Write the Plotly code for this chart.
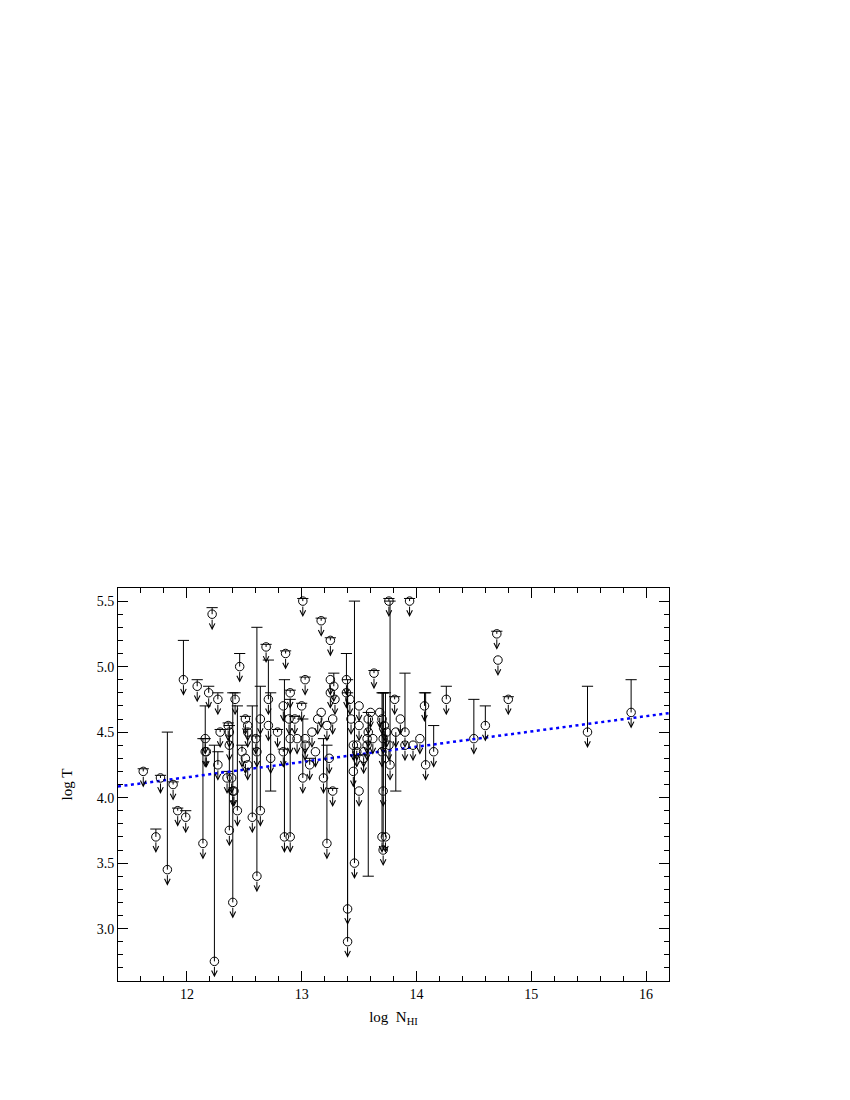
import plotly.graph_objects as go

# log N_HI, log T (upper limits), top of upper error bar, bottom of lower bar (None = none)
NHI = [11.62, 11.73, 11.77, 11.83, 11.88, 11.92, 11.99, 11.97, 12.09, 12.19,
       12.27, 12.22, 12.16, 12.16, 12.17, 12.14, 12.24, 12.27, 12.29, 12.36,
       12.37, 12.37, 12.35, 12.39, 12.40, 12.41, 12.44, 12.37, 12.40, 12.42,
       12.46, 12.48, 12.51, 12.53, 12.51, 12.53, 12.53, 12.57, 12.60, 12.61,
       12.61, 12.64, 12.64, 12.69, 12.71, 12.71, 12.73, 12.79, 12.84, 12.84,
       12.85, 12.86, 12.89, 12.90, 12.90, 12.90, 12.94, 12.96, 13.00, 13.01,
       13.01, 13.03, 13.03, 13.03, 13.07, 13.09, 13.12, 13.14, 13.17, 13.17,
       13.19, 13.22, 13.22, 13.24, 13.25, 13.25, 13.25, 13.27, 13.27, 13.28,
       13.29, 13.39, 13.39, 13.40, 13.40, 13.42, 13.43, 13.45, 13.45, 13.46,
       13.48, 13.48, 13.50, 13.50, 13.50, 13.54, 13.54, 13.57, 13.57, 13.58,
       13.58, 13.60, 13.62, 13.63, 13.68, 13.70, 13.70, 13.71, 13.72, 13.74,
       13.71, 13.70, 13.73, 13.71, 13.76, 13.76, 13.77, 13.81, 13.82, 13.86,
       13.90, 13.90, 13.94, 13.97, 14.03, 14.07, 14.08, 14.15, 14.26, 14.50,
       14.60, 14.70, 14.71, 14.80, 15.49, 15.87]
LOGT = [4.20, 3.70, 4.15, 3.45, 4.10, 3.90, 3.85, 4.90, 4.85, 4.80,
        4.75, 5.40, 4.45, 4.35, 4.35, 3.65, 2.75, 4.25, 4.50, 4.55,
        4.50, 4.40, 4.15, 4.15, 4.05, 4.05, 3.90, 3.75, 3.20, 4.75,
        5.00, 4.35, 4.30, 4.25, 4.60, 4.55, 4.50, 3.85, 4.45, 4.35,
        3.40, 4.60, 3.90, 5.15, 4.75, 4.55, 4.30, 4.50, 4.70, 4.35,
        3.70, 5.10, 4.60, 4.80, 4.45, 3.70, 4.60, 4.45, 4.70, 5.50,
        4.15, 4.90, 4.45, 4.40, 4.25, 4.50, 4.35, 4.60, 4.65, 5.35,
        4.15, 4.55, 3.65, 4.30, 5.20, 4.90, 4.80, 4.60, 4.05, 4.85,
        4.75, 4.90, 4.80, 3.15, 2.90, 4.75, 4.60, 4.40, 4.20, 3.50,
        4.40, 4.35, 4.70, 4.55, 4.05, 4.35, 4.30, 4.40, 4.45, 4.60,
        4.50, 4.65, 4.45, 4.95, 4.65, 4.60, 4.35, 4.45, 4.55, 4.50,
        4.05, 3.70, 3.70, 3.60, 4.40, 5.50, 4.25, 4.75, 4.50, 4.60,
        4.50, 4.40, 5.50, 4.40, 4.45, 4.70, 4.25, 4.35, 4.75, 4.45,
        4.55, 5.25, 5.05, 4.75, 4.50, 4.65]
TOP = [4.22, 3.76, 4.17, 4.50, 4.12, 3.92, 3.90, 5.20, 4.90, 4.85,
       4.80, 5.45, 4.70, 4.45, None, 4.45, 4.40, 4.35, 4.52, 4.57,
       None, None, 4.20, None, None, None, 4.70, 4.55, 4.80, 4.80,
       5.10, 4.40, None, None, 4.62, None, None, 4.70, 4.47, None,
       5.30, None, 4.85, 5.17, 5.05, None, 4.80, 4.52, None, 4.37,
       4.90, 5.12, None, 4.82, None, 4.75, 4.62, None, 4.72, 5.52,
       4.60, 4.92, None, None, 4.30, None, None, None, None, 5.37,
       4.45, None, 4.40, None, 5.22, None, None, None, 4.07, 4.95,
       None, 5.10, None, 4.90, 4.80, None, None, None, None, 5.50,
       None, None, None, None, None, None, None, None, None, None,
       4.65, None, None, 4.97, None, None, None, None, None, None,
       4.80, 4.80, 4.80, 4.80, None, 5.52, 5.50, 4.77, None, None,
       4.95, None, 5.52, None, None, 4.80, 4.80, 4.55, 4.85, 4.75,
       4.70, 5.27, None, 4.77, 4.85, 4.90]
BOTTOM = [None] * 46 + [4.05] + [None] * 53 + [3.40] + [None] * 17 + [4.05] + [None] * 17

FIT_X = [11.4, 16.2]
FIT_Y = [4.085, 4.645]

X_TICKS = [12, 13, 14, 15, 16]
Y_TICKS = [3.0, 3.5, 4.0, 4.5, 5.0, 5.5]

FONT = "Liberation Serif"

fig = go.Figure()

# upper error bars
ex, ey, cx, cy = [], [], [], []
for x, y, t in zip(NHI, LOGT, TOP):
    if t is not None:
        ex += [x, x, None]
        ey += [y, t, None]
        cx.append(x)
        cy.append(t)
# lower error bars
lx, ly = [], []
for x, y, b in zip(NHI, LOGT, BOTTOM):
    if b is not None:
        ex += [x, x, None]
        ey += [y, b, None]
        lx.append(x)
        ly.append(b)

fig.add_trace(go.Scatter(x=ex, y=ey, mode="lines",
                         line=dict(color="black", width=1),
                         hoverinfo="skip", showlegend=False))
fig.add_trace(go.Scatter(x=cx + lx, y=cy + ly, mode="markers",
                         marker=dict(symbol="line-ew", size=8,
                                     line=dict(color="black", width=1)),
                         hoverinfo="skip", showlegend=False))

fig.add_trace(go.Scatter(x=FIT_X, y=FIT_Y, mode="lines",
                         line=dict(color="#0000ff", width=2.5, dash="3px,3.5px"),
                         showlegend=False))

fig.add_trace(go.Scatter(x=NHI, y=LOGT, mode="markers",
                         marker=dict(symbol="circle-open", size=8.5,
                                     color="black", line=dict(color="black", width=1)),
                         showlegend=False))

annotations = []
for x, y in zip(NHI, LOGT):
    annotations.append(dict(x=x, y=y, xref="x", yref="y", text="",
                            showarrow=True, ax=0, ay=-16, axref="pixel",
                            ayref="pixel", yshift=-16, arrowhead=5,
                            arrowsize=1.1, arrowwidth=1, arrowcolor="black",
                            startstandoff=4))

fig.update_layout(
    width=850, height=1100,
    margin=dict(l=110, r=189, t=580, b=127),
    paper_bgcolor="white", plot_bgcolor="white",
    font=dict(family=FONT, size=14, color="black"),
    annotations=annotations,
    xaxis=dict(range=[11.4, 16.2], tickvals=X_TICKS,
               ticktext=[str(v) for v in X_TICKS],
               ticks="inside", ticklen=10, tickwidth=1, tickcolor="black",
               minor=dict(dtick=0.2, tick0=0, ticks="inside", ticklen=5,
                          tickcolor="black", showgrid=False),
               showline=True, linecolor="black", linewidth=1, mirror="allticks",
               showgrid=False, zeroline=False,
               title=dict(text="log\u00a0 N<sub>HI</sub>", standoff=10,
                          font=dict(family=FONT, size=15)),
               tickfont=dict(family=FONT, size=14)),
    yaxis=dict(range=[2.6, 5.6], tickvals=Y_TICKS,
               ticktext=[f"{v:.1f}" for v in Y_TICKS],
               ticks="inside", ticklen=10, tickwidth=1, tickcolor="black",
               minor=dict(dtick=0.1, tick0=0, ticks="inside", ticklen=5,
                          tickcolor="black", showgrid=False),
               showline=True, linecolor="black", linewidth=1, mirror="allticks",
               showgrid=False, zeroline=False,
               title=dict(text="log T", standoff=20,
                          font=dict(family=FONT, size=15)),
               tickfont=dict(family=FONT, size=14)),
)

fig.write_html("out.html")
